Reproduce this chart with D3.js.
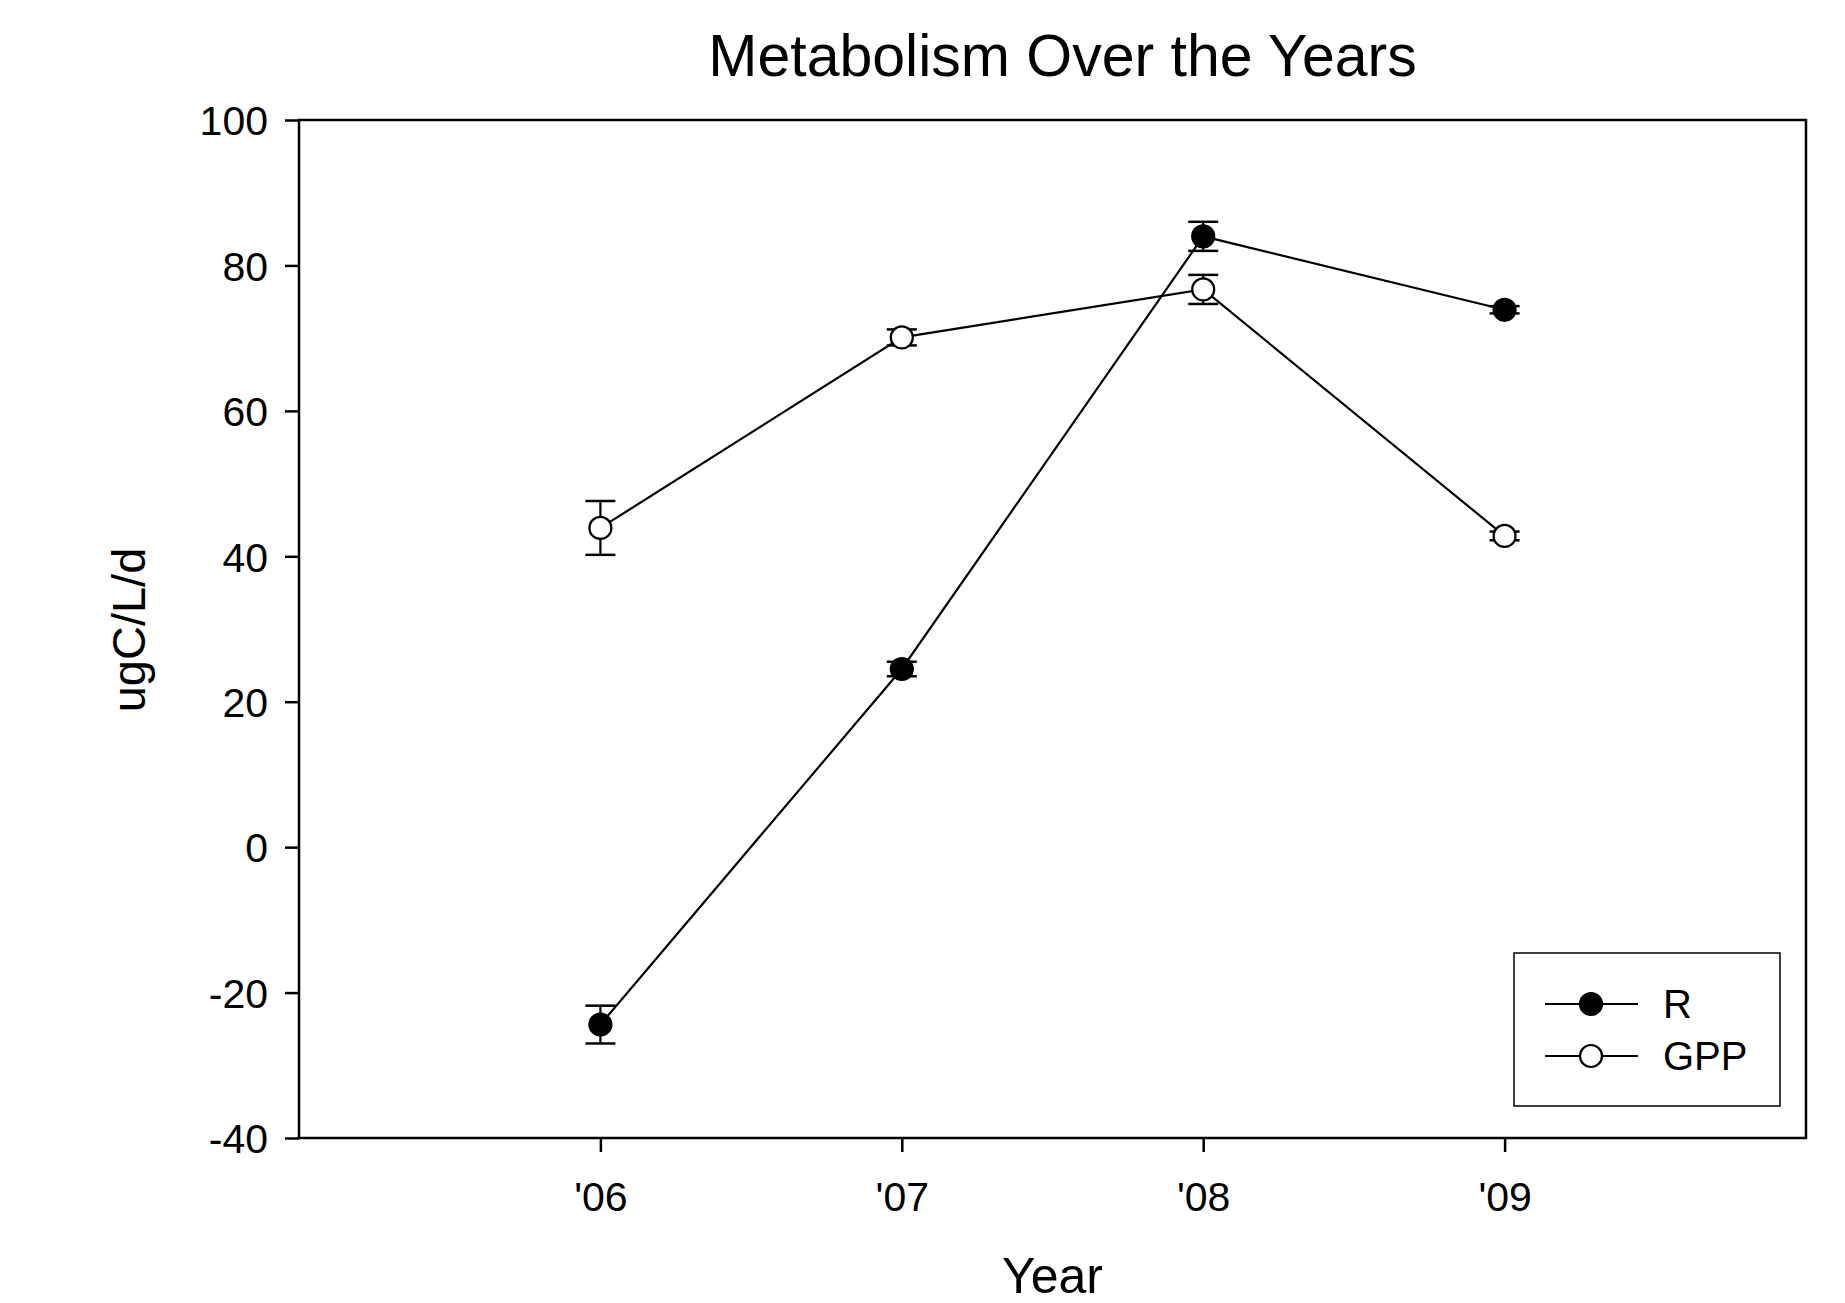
<!DOCTYPE html>
<html>
<head>
<meta charset="utf-8">
<script src="https://cdn.jsdelivr.net/npm/d3@7"></script>
<style>
  body { margin: 0; background: #fff; }
  svg { display: block; font-family: "Liberation Sans", Arial, sans-serif; }
</style>
</head>
<body>
<div id="chart"></div>
<script>
// data
const years = [2006, 2007, 2008, 2009];
const yearLabels = ["'06", "'07", "'08", "'09"];
const rValues = [-24.4, 24.5, 84.0, 73.9];
const rErrors = [2.6, 1.0, 2.0, 0.5];
const gppValues = [43.9, 70.1, 76.7, 42.8];
const gppErrors = [3.7, 1.1, 2.0, 0.6];
const yTicks = [-40, -20, 0, 20, 40, 60, 80, 100];
const seriesNames = ["R", "GPP"];

// layout
const width = 1845, height = 1303;
const margins = { top: 120, bottom: 165, left: 299, right: 39 };
const innerW = width - margins.left - margins.right;
const innerH = height - margins.top - margins.bottom;
const markerR = 11;
const capHalf = 15;

const svg = d3.select('#chart').append('svg')
    .attr('width', width)
    .attr('height', height);

const group = svg.append('g')
    .attr('transform', `translate(${margins.left},${margins.top})`);

// scales
const xScale = d3.scaleLinear().domain([2005, 2010]).range([0, innerW]);
const yScale = d3.scaleLinear().domain([-40, 100]).range([innerH, 0]);

// axes (plain hyphen for negatives, like the original)
const yAxis = d3.axisLeft(yScale).tickValues(yTicks).tickSize(14).tickPadding(17)
    .tickFormat(d => String(d));
const xAxis = d3.axisBottom(xScale).tickValues(years).tickSize(14).tickPadding(30)
    .tickFormat((d, i) => yearLabels[i]);

const yAxisGroup = group.append('g').call(yAxis);
const xAxisGroup = group.append('g').attr('transform', `translate(0,${innerH})`).call(xAxis);

[yAxisGroup, xAxisGroup].forEach(g => {
    g.select('.domain').remove();
    g.selectAll('line').attr('stroke', '#000').attr('stroke-width', 2.5);
    g.selectAll('text').attr('fill', '#000').attr('font-size', 41)
        .attr('font-family', '"Liberation Sans", Arial, sans-serif');
});
yAxisGroup.selectAll('text').attr('dy', '0.36em');

// frame
group.append('rect')
    .attr('x', 0).attr('y', 0)
    .attr('width', innerW).attr('height', innerH)
    .attr('fill', 'none')
    .attr('stroke', '#000')
    .attr('stroke-width', 2.5);

// series
const series = [
    { name: seriesNames[0], values: rValues, errors: rErrors, fill: '#000' },
    { name: seriesNames[1], values: gppValues, errors: gppErrors, fill: '#fff' }
];

const line = d3.line()
    .x((d, i) => xScale(years[i]))
    .y(d => yScale(d));

series.forEach(s => {
    group.append('path')
        .datum(s.values)
        .attr('d', line)
        .attr('fill', 'none')
        .attr('stroke', '#000')
        .attr('stroke-width', 2.2);
});

series.forEach(s => {
    const bars = group.append('g').selectAll('g')
        .data(s.values)
        .join('g');

    bars.append('line')
        .attr('x1', (d, i) => xScale(years[i]))
        .attr('x2', (d, i) => xScale(years[i]))
        .attr('y1', (d, i) => yScale(d + s.errors[i]))
        .attr('y2', (d, i) => yScale(d - s.errors[i]))
        .attr('stroke', '#000').attr('stroke-width', 2.2);

    [1, -1].forEach(sign => {
        bars.append('line')
            .attr('x1', (d, i) => xScale(years[i]) - capHalf)
            .attr('x2', (d, i) => xScale(years[i]) + capHalf)
            .attr('y1', (d, i) => yScale(d + sign * s.errors[i]))
            .attr('y2', (d, i) => yScale(d + sign * s.errors[i]))
            .attr('stroke', '#000').attr('stroke-width', 2.5);
    });
});

series.forEach(s => {
    group.append('g').selectAll('circle')
        .data(s.values)
        .join('circle')
        .attr('cx', (d, i) => xScale(years[i]))
        .attr('cy', d => yScale(d))
        .attr('r', markerR)
        .attr('fill', s.fill)
        .attr('stroke', '#000')
        .attr('stroke-width', 2.2);
});

// legend
const legend = svg.append('g').attr('transform', 'translate(1514,953)');
legend.append('rect')
    .attr('width', 266).attr('height', 153)
    .attr('fill', '#fff')
    .attr('stroke', '#000')
    .attr('stroke-width', 1.5);

series.forEach((s, i) => {
    const row = legend.append('g').attr('transform', `translate(0,${51 + i * 52})`);
    row.append('line')
        .attr('x1', 31).attr('x2', 124)
        .attr('stroke', '#000').attr('stroke-width', 2.2);
    row.append('circle')
        .attr('cx', 77).attr('r', markerR)
        .attr('fill', s.fill).attr('stroke', '#000').attr('stroke-width', 2.2);
    row.append('text')
        .attr('x', 149).attr('dy', '0.36em')
        .attr('font-size', 40)
        .text(s.name);
});

// titles
svg.append('text')
    .attr('x', margins.left + innerW / 2 + 10)
    .attr('y', 76)
    .attr('text-anchor', 'middle')
    .attr('font-size', 59)
    .text('Metabolism Over the Years');

svg.append('text')
    .attr('x', margins.left + innerW / 2)
    .attr('y', 1293)
    .attr('text-anchor', 'middle')
    .attr('font-size', 50)
    .text('Year');

svg.append('text')
    .attr('transform', 'translate(145,630) rotate(-90)')
    .attr('text-anchor', 'middle')
    .attr('font-size', 47)
    .text('ugC/L/d');
</script>
</body>
</html>
